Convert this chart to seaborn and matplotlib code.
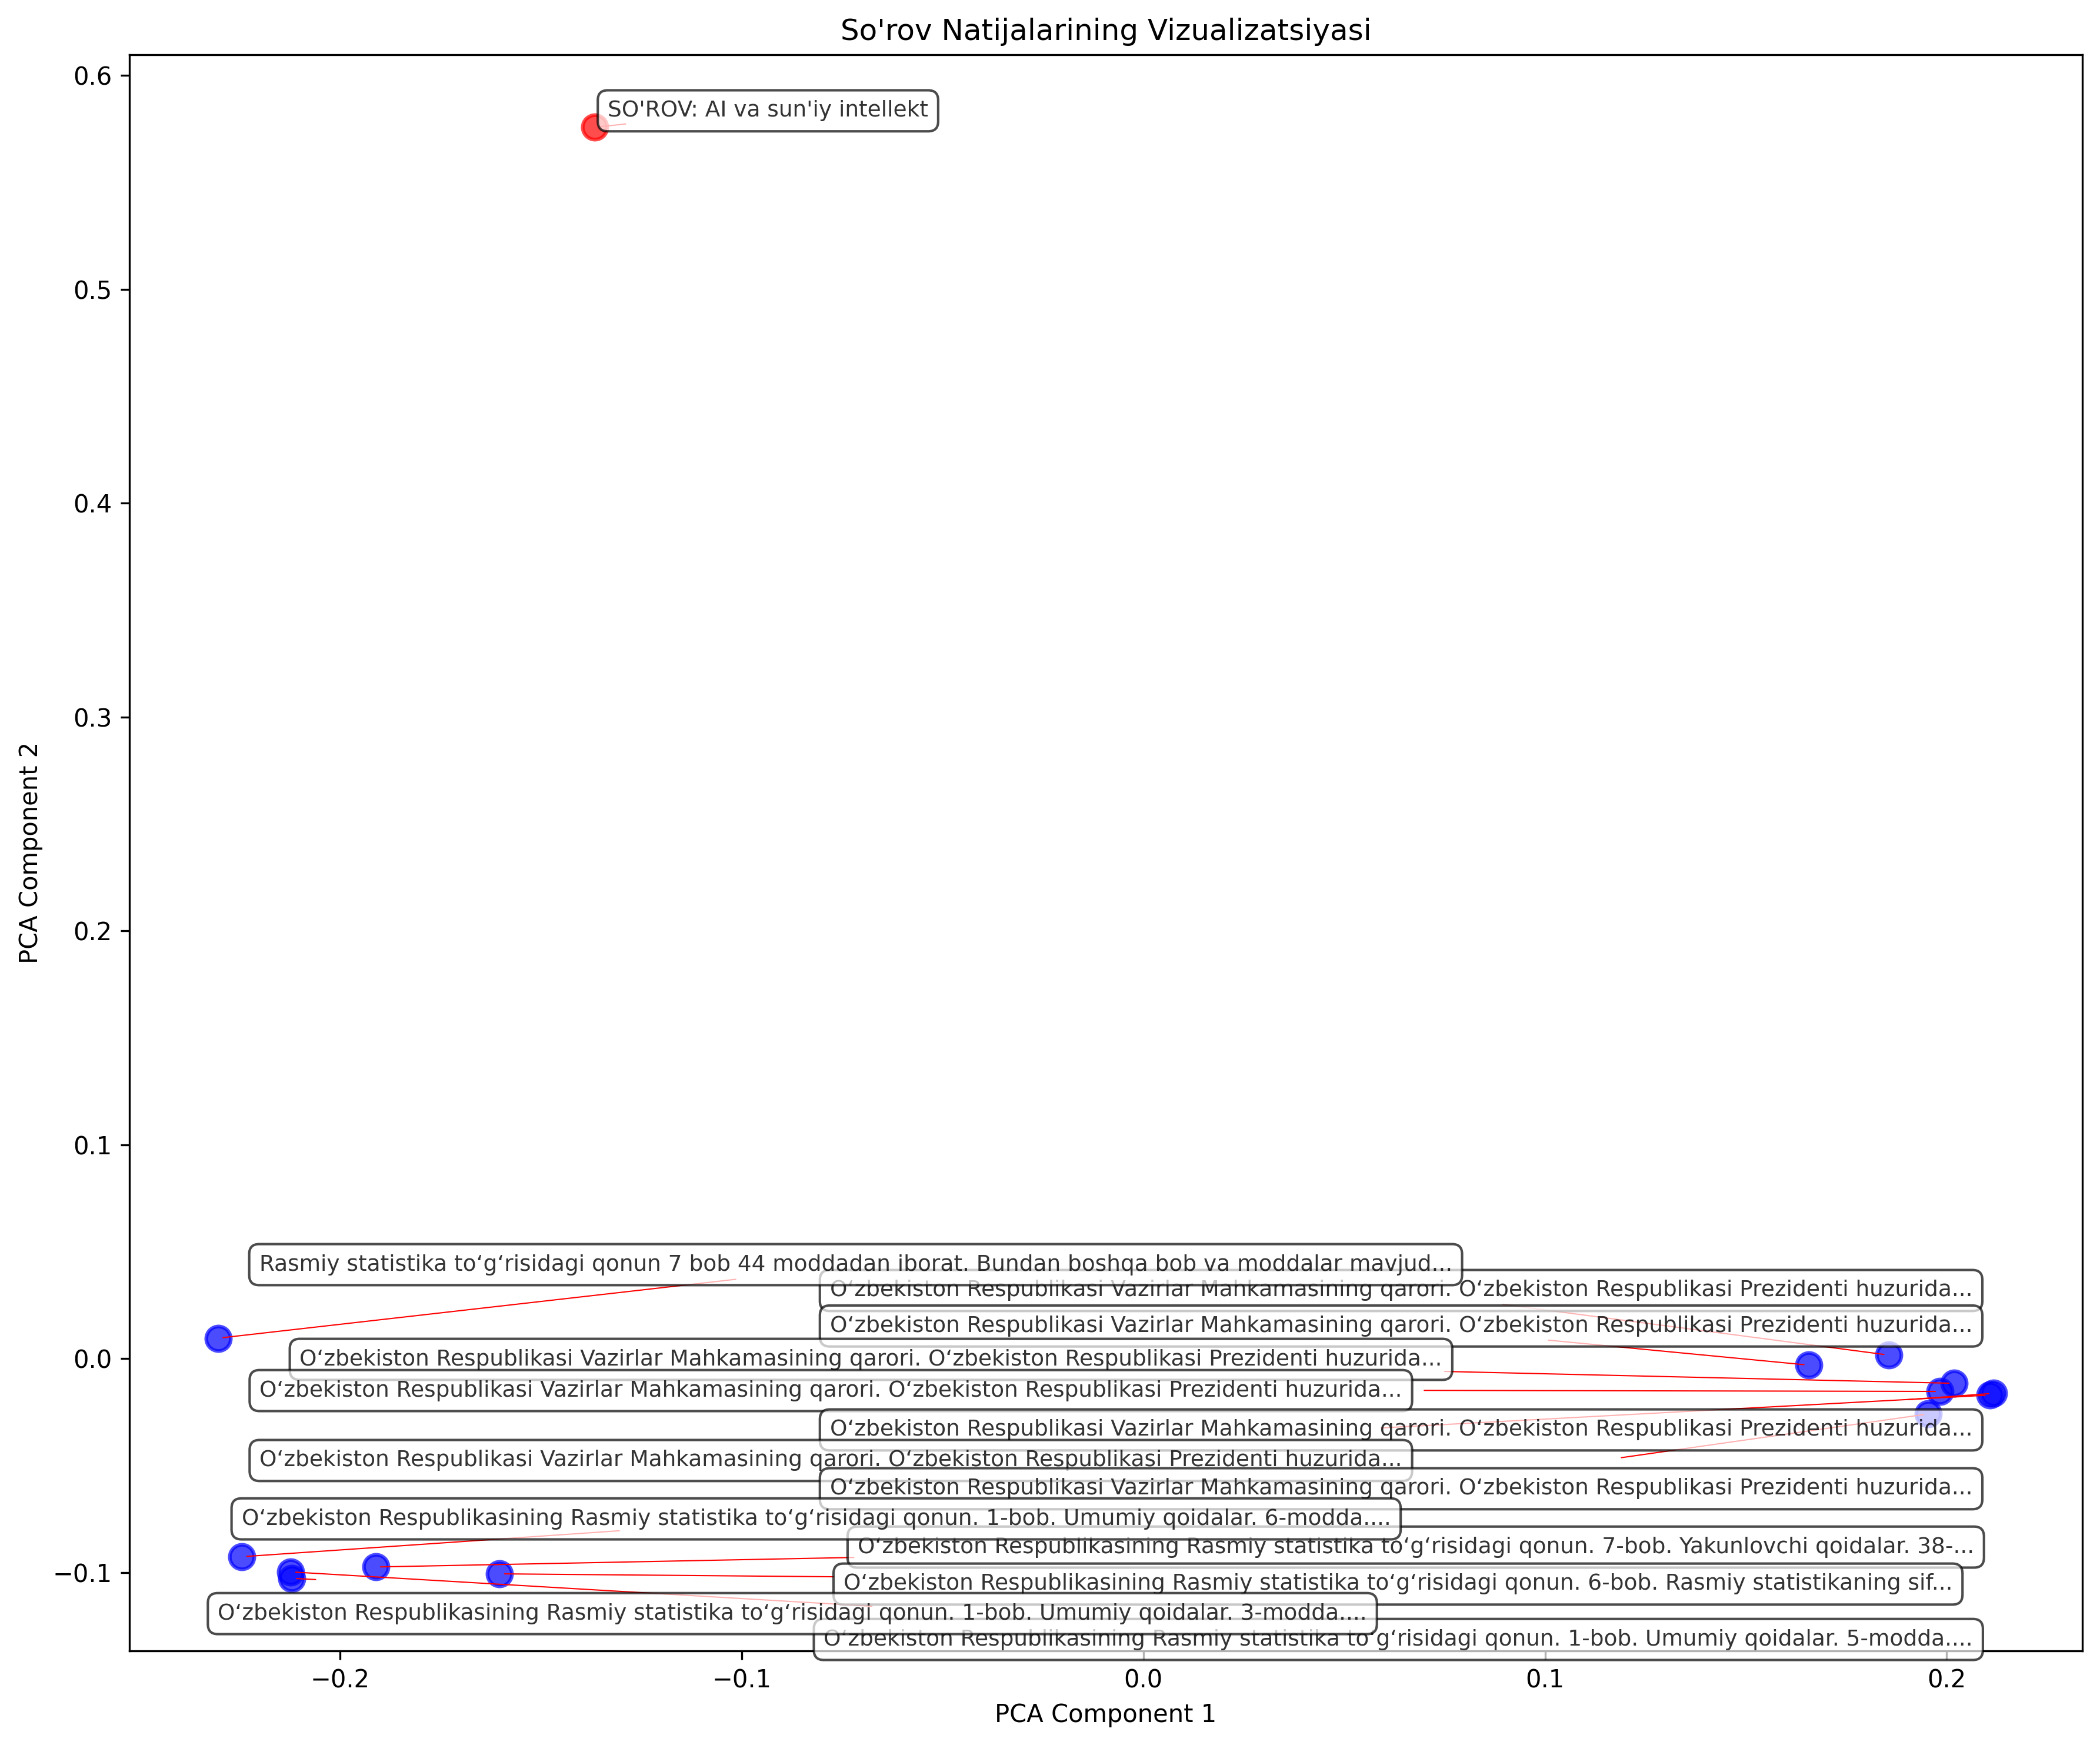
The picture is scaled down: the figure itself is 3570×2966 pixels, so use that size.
## PCA scatter of search results vs query, with annotated labels
import matplotlib
matplotlib.use("Agg")
import matplotlib.pyplot as plt
import numpy as np
import pandas as pd
import seaborn as sns

##########################################################################
## 1. Data
##########################################################################

vazirlar = ("O\u2018zbekiston Respublikasi Vazirlar Mahkamasining qarori. "
            "O\u2018zbekiston Respublikasi Prezidenti huzurida...")
rasmiy = "O\u2018zbekiston Respublikasining Rasmiy statistika to\u2018g\u2018risidagi qonun. "

doc_labels = [
    "Rasmiy statistika to\u2018g\u2018risidagi qonun 7 bob 44 moddadan iborat. "
    "Bundan boshqa bob va moddalar mavjud...",
    rasmiy + "1-bob. Umumiy qoidalar. 6-modda....",
    rasmiy + "1-bob. Umumiy qoidalar. 3-modda....",
    rasmiy + "1-bob. Umumiy qoidalar. 5-modda....",
    rasmiy + "7-bob. Yakunlovchi qoidalar. 38-...",
    rasmiy + "6-bob. Rasmiy statistikaning sif...",
    vazirlar, vazirlar, vazirlar, vazirlar, vazirlar, vazirlar, vazirlar,
]

doc_pc1 = [-0.2304, -0.2245, -0.2123, -0.2121, -0.1912, -0.1603,
           0.1657, 0.1856, 0.1984, 0.2018, 0.2108, 0.2117, 0.1955]
doc_pc2 = [0.0095, -0.0927, -0.0998, -0.1028, -0.0975, -0.1007,
           -0.0031, 0.0016, -0.0154, -0.0116, -0.0171, -0.0163, -0.0259]

query_label = "SO'ROV: AI va sun'iy intellekt"
query_pc1 = [-0.1366]
query_pc2 = [0.5758]

##########################################################################
## 2. Label layout (where the text boxes ended up, and line ends)
##########################################################################

## text anchor (left, centre) for each document label
label_xy = [(-0.2202, 0.0439), (-0.2246, -0.0750), (-0.2305, -0.1193),
            (-0.0796, -0.1314), (-0.0712, -0.0882), (-0.0747, -0.1055),
            (-0.0781, 0.0152), (-0.0781, 0.0318), (-0.2201, -0.0150),
            (-0.2101, -0.0004), (-0.0781, -0.0334), (-0.2201, -0.0477),
            (-0.0781, -0.0609)]
## where the connector line leaves the label
line_end = [(-0.1003, 0.0373), (-0.1293, -0.0804), (-0.0664, -0.1160),
            (-0.2049, -0.1035), (-0.0709, -0.0930), (-0.0759, -0.1021),
            (0.0996, 0.0088), (0.0883, 0.0256), (0.0687, -0.0149),
            (0.0738, -0.0060), (0.0580, -0.0326), (0.1891, -0.0194),
            (0.1178, -0.0467)]
draw_order = [7, 0, 6, 9, 8, 10, 11, 12, 4, 1, 5, 3, 2]

query_xy = (-0.1334, 0.5835)
query_line_end = (-0.1277, 0.5776)

df = pd.DataFrame({"pc1": doc_pc1, "pc2": doc_pc2, "label": doc_labels})
qdf = pd.DataFrame({"pc1": query_pc1, "pc2": query_pc2})

##########################################################################
## 3. Plot
##########################################################################

W, H = 3570, 2966
fig, ax = plt.subplots(figsize=(W / 300, H / 300))
fig.subplots_adjust(left=220 / W, right=3540 / W,
                    bottom=1 - 2806 / H, top=1 - 93 / H)

sns.scatterplot(data=df, x="pc1", y="pc2", color="blue", s=100, alpha=0.7,
                edgecolor="face", linewidth=1.5, ax=ax, zorder=1)
sns.scatterplot(data=qdf, x="pc1", y="pc2", color="red", s=100, alpha=0.7,
                edgecolor="face", linewidth=1.5, ax=ax, zorder=1)

box = dict(boxstyle="round,pad=0.45", facecolor="white", edgecolor="black", alpha=0.7)

## connector lines first, boxes over them
for i in range(len(df)):
    ax.annotate("", xy=(df.pc1[i], df.pc2[i]), xytext=line_end[i],
                arrowprops=dict(arrowstyle="-", color="red", lw=0.5))
ax.annotate("", xy=(query_pc1[0], query_pc2[0]), xytext=query_line_end,
            arrowprops=dict(arrowstyle="-", color="red", lw=0.5))

for i in draw_order:
    ax.text(label_xy[i][0], label_xy[i][1], df.label[i], fontsize=9,
            ha="left", va="center", alpha=0.8, bbox=box)
ax.text(query_xy[0], query_xy[1], query_label, fontsize=9,
        ha="left", va="center", alpha=0.8, bbox=box)

ax.set_title("So'rov Natijalarining Vizualizatsiyasi")
ax.set_xlabel("PCA Component 1")
ax.set_ylabel("PCA Component 2")

plt.savefig("out.png", dpi=300)
